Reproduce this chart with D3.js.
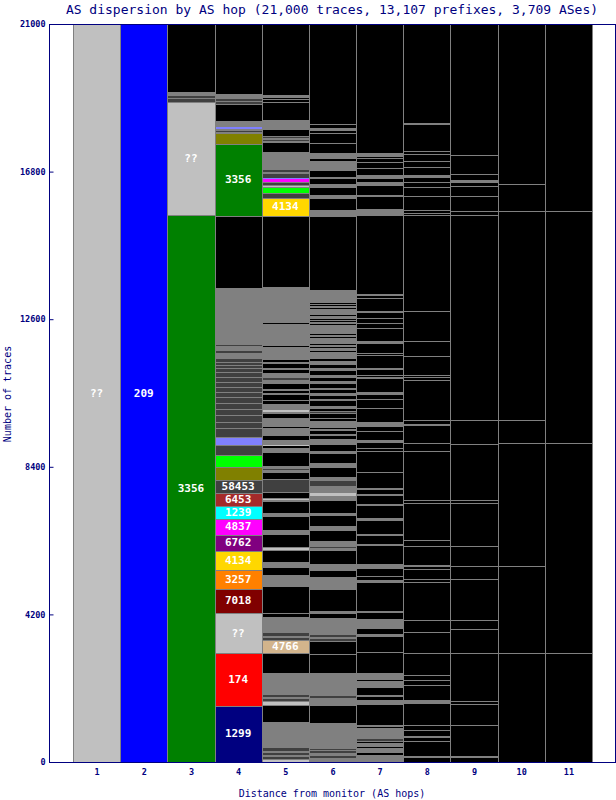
<!DOCTYPE html>
<html><head><meta charset="utf-8">
<script src="https://cdn.jsdelivr.net/npm/d3@7"></script>
<style>body{margin:0;background:#fff}svg{display:block}</style>
</head><body><svg id="c" width="616" height="800"></svg>
<script>
const title = "AS dispersion by AS hop (21,000 traces, 13,107 prefixes, 3,709 ASes)";
const xTitle = "Distance from monitor (AS hops)";
const yTitle = "Number of traces";
const hops = [1,2,3,4,5,6,7,8,9,10,11];
const yTicks = [0,4200,8400,12600,16800,21000];

// segments per hop, bottom to top: [traces, colour key, label]
const hop1 = [[21000,"??","??"]];
const hop2 = [[21000,"209","209"]];
const hop3 = [[15565,"3356","3356"],[3215,"??","??"],[85,"d"],[40,"g"],[40,"d"],[120,"g"],[1935,"k"]];
const hop4 = [[1600,"1299","1299"],[1490,"174","174"],[1155,"??","??"],[683,"7018","7018"],[540,"3257","3257"],
  [540,"4134","4134"],[455,"6762","6762"],[455,"4837","4837"],[370,"1239","1239"],[370,"6453","6453"],
  [370,"58453","58453"],[360,"olive"],[341,"lime"],[285,"d"],[247,"peri"],
  [236,"d"],[190,"d"],[200,"d"],[170,"d"],[170,"d"],[170,"d"],[142,"d"],[142,"d"],[142,"d"],[142,"d"],[142,"d"],
  [114,"d"],[85,"d"],[85,"d"],[85,"d"],[170,"g"],[40,"d"],[142,"g"],[28,"d"],[142,"g"],[600,"g"],[880,"g"],
  [2049,"k"],[2069,"3356","3356"],[273,"olive"],[60,"g"],[30,"d"],[41,"g"],[57,"peri"],[182,"g"],[492,"k"],
  [50,"d"],[30,"g"],[42,"d"],[162,"g"],[1985,"k"]];
const hop5 = [[94,"s"],[57,"d"],[57,"g"],[57,"d"],[57,"g"],[85,"d"],[77,"g"],[654,"g"],[455,"k"],[28,"g"],[122,"s"],
  [57,"d"],[57,"g"],[57,"d"],[57,"g"],[569,"g"],[532,"k"],[37,"g"],[361,"4766","4766"],[57,"d"],[57,"g"],[85,"d"],
  [464,"g"],[114,"k"],[740,"k"],[333,"g"],[190,"k"],[188,"g"],[333,"k"],[94,"s"],[333,"k"],[142,"g"],[361,"k"],
  [122,"g"],[322,"k"],[43,"g"],[28,"s"],[34,"g"],[179,"k"],[353,"d"],[179,"k"],[85,"g"],[28,"d"],[85,"g"],[361,"k"],
  [142,"g"],[57,"k"],[28,"s"],[142,"g"],[114,"k"],[228,"g"],[37,"k"],[247,"g"],[134,"k"],[37,"g"],[65,"s"],[162,"g"],
  [94,"k"],[40,"g"],[122,"k"],[85,"g"],[57,"k"],[57,"g"],[134,"k"],[94,"g"],[65,"d"],[142,"g"],[97,"k"],[57,"g"],
  [94,"k"],[57,"g"],[57,"k"],[48,"g"],[350,"g"],[28,"k"],[606,"g"],[28,"k"],[1024,"g"],[2040,"k"],
  [504,"4134","4134"],[151,"d"],[125,"lime"],[28,"g"],[65,"s"],[77,"d"],[85,"mag"],[48,"peri"],[65,"d"],
  [43,"d"],[57,"g"],[43,"d"],[57,"g"],[455,"g"],[256,"k"],[57,"g"],[43,"d"],[57,"g"],[43,"d"],[179,"k"],[285,"g"],
  [475,"k"],[28,"g"],[57,"k"],[28,"g"],[28,"k"],[85,"g"],[2027,"k"]];
const hop6 = [[114,"g"],[57,"d"],[85,"g"],[48,"d"],[28,"g"],[28,"d"],[748,"g"],[484,"k"],[162,"g"],[57,"g"],[57,"d"],
  [85,"g"],[587,"g"],[532,"k"],[370,"k"],[57,"d"],[57,"g"],[57,"d"],[495,"g"],[114,"k"],[76,"g"],[606,"k"],[57,"g"],
  [304,"g"],[171,"k"],[208,"g"],[361,"k"],[85,"g"],[28,"d"],[95,"g"],[76,"g"],
  [285,"k"],[142,"g"],[285,"k"],[85,"g"],[341,"k"],[142,"g"],[85,"s"],[199,"g"],[142,"d"],[114,"g"],[256,"k"],
  [142,"g"],[256,"k"],[85,"g"],[171,"k"],[114,"g"],
  [57,"g"],[85,"k"],[57,"g"],[85,"k"],[57,"g"],[28,"k"],[199,"g"],[57,"k"],[37,"g"],[134,"k"],[57,"d"],[57,"k"],
  [85,"g"],[142,"k"],[57,"g"],[85,"k"],[85,"g"],[85,"k"],[65,"g"],[97,"k"],[94,"g"],[85,"k"],[85,"g"],[114,"k"],
  [85,"g"],[85,"k"],[114,"g"],[57,"k"],[37,"g"],
  [176,"g"],[28,"k"],[85,"g"],[28,"k"],[57,"g"],[28,"k"],[176,"g"],[28,"k"],[37,"g"],[28,"k"],[256,"g"],[28,"k"],
  [65,"g"],[28,"k"],[40,"g"],[28,"k"],[65,"g"],[28,"k"],[190,"g"],[28,"k"],[37,"g"],[28,"k"],[48,"g"],[28,"k"],[350,"g"],
  [2086,"k"],[28,"g"],[171,"g"],[304,"k"],[114,"g"],[216,"k"],[114,"g"],[125,"k"],[65,"g"],[171,"k"],[285,"g"],
  [48,"k"],[188,"g"],[267,"k"],[28,"g"],[256,"k"],[28,"g"],[37,"k"],[94,"g"],[97,"k"],[28,"g"],[2832,"k"]];
const hop7 = [[199,"g"],[57,"k"],[142,"g"],[37,"k"],[105,"g"],[57,"k"],[57,"d"],[304,"g"],[46,"k"],[48,"g"],
  [569,"k"],[142,"g"],[94,"k"],[48,"g"],[208,"k"],[200,"g"],[28,"k"],[182,"g"],
  [586,"k"],[28,"g"],[427,"k"],[77,"g"],[142,"k"],[285,"g"],[179,"k"],[48,"g"],
  [788,"k"],[94,"g"],[85,"k"],[28,"g"],[190,"k"],[151,"g"],
  [512,"k"],[57,"g"],[228,"k"],[57,"g"],[370,"k"],[85,"g"],[341,"k"],[57,"g"],[228,"k"],[57,"g"],[114,"k"],[57,"g"],
  [418,"k"],[46,"g"],[569,"k"],[28,"g"],[48,"k"],[28,"g"],[134,"k"],[94,"g"],
  [219,"k"],[28,"g"],[131,"k"],[142,"g"],[361,"k"],[28,"g"],[228,"k"],[28,"g"],[114,"k"],[94,"g"],[361,"k"],[57,"g"],
  [28,"k"],[28,"g"],[162,"k"],[57,"g"],[322,"k"],[28,"g"],[48,"k"],[28,"g"],[256,"k"],[65,"g"],[361,"k"],[28,"g"],
  [94,"k"],[28,"g"],[134,"k"],[28,"g"],[142,"k"],[37,"g"],[341,"k"],[28,"g"],[57,"k"],[57,"g"],[2219,"k"],
  [199,"g"],[350,"k"],[48,"g"],[256,"k"],[114,"g"],[94,"k"],[28,"g"],[94,"g"],[179,"k"],[28,"g"],[142,"k"],[28,"g"],
  [77,"k"],[37,"g"],[28,"k"],[114,"g"],[3658,"k"]];
const hop8 = [[105,"k"],[65,"g"],[398,"k"],[28,"g"],[94,"k"],[48,"g"],[157,"k"],[28,"g"],[114,"k"],[28,"g"],
  [583,"k"],[114,"g"],[413,"k"],[28,"g"],[100,"k"],[28,"g"],[128,"k"],[28,"g"],[598,"k"],[28,"g"],[546,"k"],[46,"g"],
  [319,"k"],[28,"g"],[1039,"k"],[28,"g"],[57,"k"],[28,"g"],[256,"k"],[28,"g"],[65,"k"],[48,"g"],[526,"k"],[28,"g"],
  [128,"k"],[28,"g"],[1024,"k"],[28,"g"],[71,"k"],[28,"g"],[1352,"k"],[28,"g"],[199,"k"],[37,"g"],
  [475,"k"],[77,"g"],[80,"k"],[28,"g"],[1110,"k"],[28,"g"],[48,"k"],[28,"g"],[37,"k"],[28,"g"],[512,"k"],[28,"g"],
  [398,"k"],[28,"g"],[825,"k"],[28,"g"],[2689,"k"],
  [28,"g"],[37,"k"],[28,"g"],[48,"k"],[48,"g"],[364,"k"],[28,"g"],[233,"k"],[37,"g"],[91,"k"],[28,"g"],[128,"k"],
  [94,"g"],[193,"k"],[28,"g"],[128,"k"],[28,"g"],[176,"k"],[28,"g"],[51,"k"],[28,"g"],[760,"k"],[37,"g"],[2826,"k"]];
const hop9 = [[105,"k"],[65,"g"],[868,"k"],[28,"g"],[569,"k"],[28,"g"],[43,"k"],[28,"g"],[1343,"k"],[28,"g"],
  [654,"k"],[28,"g"],[236,"k"],[28,"g"],[1130,"k"],[28,"g"],[327,"k"],[37,"g"],[555,"k"],[28,"g"],[1195,"k"],[28,"g"],
  [57,"k"],[28,"g"],[1559,"k"],[40,"g"],[649,"k"],[28,"g"],[5791,"k"],
  [28,"g"],[85,"k"],[37,"g"],[390,"k"],[28,"g"],[270,"k"],[28,"g"],[80,"k"],[77,"g"],[157,"k"],[28,"g"],[512,"k"],
  [28,"g"],[3721,"k"]];
const hop10 = [[3079,"k"],[28,"g"],[2456,"k"],[28,"g"],[3463,"k"],[28,"g"],[626,"k"],[28,"g"],[5927,"k"],[28,"g"],
  [740,"k"],[28,"g"],[4541,"k"]];
const hop11 = [[3079,"k"],[28,"g"],[5947,"k"],[28,"g"],[6582,"k"],[28,"g"],[5308,"k"]];

const palette = {
  "??":"#c0c0c0","209":"#0000ff","3356":"#008000","1299":"#000080","174":"#ff0000","7018":"#800000",
  "3257":"#ff8000","4134":"#ffd700","6762":"#800080","4837":"#ff00ff","1239":"#00ffff","6453":"#a52a2a",
  "58453":"#404040","4766":"#d2b48c","olive":"#808000","lime":"#00ff00","peri":"#8080ff","mag":"#ff00ff",
  "k":"#000000","g":"#808080","d":"#404040","s":"#c0c0c0"
};
const navy = "#000080", lineGray = "#808080";
const mono = "'DejaVu Sans Mono', 'Liberation Mono', monospace";

const columns = [hop1,hop2,hop3,hop4,hop5,hop6,hop7,hop8,hop9,hop10,hop11];
const svg = d3.select("#c");
const x = d3.scaleLinear().domain([0, 12]).range([49.4, 615.6]);
const y = d3.scaleLinear().domain([0, 21000]).range([762, 24]);

const gBars = svg.append("g").attr("shape-rendering","crispEdges");
const gLines = svg.append("g").attr("shape-rendering","crispEdges");
const gLabels = svg.append("g");

columns.forEach((segs, ci) => {
  const hop = hops[ci];
  const xl = Math.round(x(hop - 0.5)), xr = Math.round(x(hop + 0.5));
  let cum = 0;
  const rows = segs.map(([v, key, label]) => {
    const b = cum; cum += v;
    const yb = Math.round(y(b)), yt = Math.round(y(cum));
    return {v, key, label, yb, yt, h: yb - yt, mid: (y(b) + y(cum)) / 2};
  });
  gBars.selectAll(null).data(rows).join("rect")
    .attr("x", xl).attr("width", xr - xl)
    .attr("y", d => d.yt).attr("height", d => Math.max(1, d.h))
    .attr("fill", d => palette[d.key]);
  const bounds = [];
  for (let j = 0; j < rows.length - 1; j++) {
    const a = rows[j], b = rows[j + 1];
    if (a.key !== "g" && b.key !== "g" && a.h >= 2 && b.h >= 2) bounds.push(a.yt);
  }
  gLines.selectAll(null).data(bounds).join("rect")
    .attr("x", xl).attr("width", xr - xl).attr("y", d => d).attr("height", 1)
    .attr("fill", lineGray);
  gLabels.selectAll(null).data(rows.filter(d => d.label)).join("text")
    .attr("x", x(hop)).attr("y", d => d.mid)
    .attr("text-anchor", "middle").attr("dominant-baseline", "central")
    .attr("fill", "#fff").attr("font-family", mono).attr("font-weight", "bold")
    .attr("font-size", 11).text(d => d.label);
});

// vertical column separators
const edges = hops.map(h => h - 0.5).concat([hops[hops.length - 1] + 0.5]);
gLines.selectAll(null).data(edges).join("rect")
  .attr("x", d => Math.round(x(d))).attr("width", 1)
  .attr("y", y(21000)).attr("height", y(0) - y(21000)).attr("fill", lineGray);

// frame
svg.append("rect").attr("x", 49.5).attr("y", 24.5).attr("width", 566).attr("height", 738)
  .attr("fill", "none").attr("stroke", navy).attr("shape-rendering","crispEdges");

// axes
const yAxis = svg.append("g").attr("transform", "translate(49.5,0)")
  .call(d3.axisLeft(y).tickValues(yTicks).tickFormat(d3.format("d")).tickSizeInner(-4).tickSizeOuter(0).tickPadding(4));
yAxis.select(".domain").remove();
yAxis.selectAll("line").attr("stroke", navy);
yAxis.selectAll("text").attr("fill", navy).attr("font-family", mono).attr("font-size", 8.5).attr("font-weight","bold");

const xAxis = svg.append("g").attr("transform", "translate(0,762.5)")
  .call(d3.axisBottom(x).tickValues(hops).tickSize(0).tickPadding(6));
xAxis.select(".domain").remove();
xAxis.selectAll("text").attr("fill", navy).attr("font-family", mono).attr("font-size", 8.5).attr("font-weight","bold");

svg.append("text").attr("x", 332).attr("y", 14).attr("text-anchor", "middle")
  .attr("fill", navy).attr("font-family", mono).attr("font-size", 13).text(title);
svg.append("text").attr("x", 332).attr("y", 797).attr("text-anchor", "middle")
  .attr("fill", navy).attr("font-family", mono).attr("font-size", 10).text(xTitle);
svg.append("text").attr("transform", "translate(11,394) rotate(-90)").attr("text-anchor", "middle")
  .attr("fill", navy).attr("font-family", mono).attr("font-size", 10).text(yTitle);
</script></body></html>
